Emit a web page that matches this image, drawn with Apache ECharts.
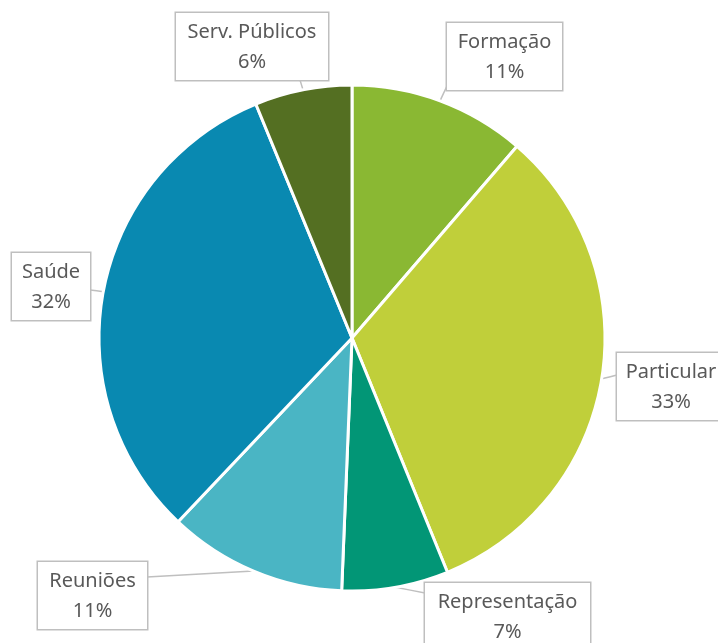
<!DOCTYPE html>
<html>
<head>
<meta charset="utf-8">
<script src="https://cdn.jsdelivr.net/npm/echarts@6/dist/echarts.min.js"></script>
<style>
html,body{margin:0;padding:0;background:#fff;}
#chart{width:718px;height:643px;}
</style>
</head>
<body>
<div id="chart"></div>
<script>
// ---- data ----
const categories = ['Formação', 'Particular', 'Representação', 'Reuniões', 'Saúde', 'Serv. Públicos'];
const values = [11.3, 32.5, 6.8, 11.4, 31.7, 6.2];
const colors = ['#8ab833', '#c0cf3a', '#029676', '#4ab5c4', '#0989b1', '#546f22'];

// ---- callout box layout (left, top, width) and pointer point on box ----
const boxLeft   = [447, 617, 425, 38, 12, 176];
const boxTop    = [23, 353, 583, 562, 253, 13];
const boxWidth  = [115, 108, 165, 109, 78, 152];
const pointerX  = [447, 617, 425, 147, 90, 300];
const pointerY  = [86, 375, 593, 577, 290, 80];

const padX = 4;
const chart = echarts.init(document.getElementById('chart'), null, {renderer: 'canvas'});

const data = categories.map((c, i) => ({
  name: c,
  value: values[i],
  itemStyle: {color: colors[i]},
  label: {width: boxWidth[i] - 2 * padX}
}));

chart.setOption({
  animation: false,
  series: [{
    type: 'pie',
    center: [352, 338],
    radius: 253,
    startAngle: 90,
    clockwise: true,
    data: data,
    itemStyle: {borderColor: '#ffffff', borderWidth: 3},
    label: {
      show: true,
      position: 'outside',
      formatter: p => p.name + '\n' + Math.round(p.percent) + '%',
      fontFamily: 'Noto Sans',
      fontSize: 20,
      lineHeight: 30,
      color: '#595959',
      align: 'center',
      backgroundColor: '#ffffff',
      borderColor: '#bfbfbf',
      borderWidth: 1.5,
      padding: [4, padX, 3, padX]
    },
    labelLine: {
      show: true,
      smooth: false,
      lineStyle: {color: '#bfbfbf', width: 1.5}
    },
    labelLayout: function (params) {
      const i = params.dataIndex;
      const a = params.labelLinePoints ? params.labelLinePoints[0] : [pointerX[i], pointerY[i]];
      const b = [pointerX[i], pointerY[i]];
      return {
        x: boxLeft[i] + boxWidth[i] / 2,
        y: boxTop[i],
        align: 'center',
        verticalAlign: 'top',
        labelLinePoints: [a, [(a[0] + b[0]) / 2, (a[1] + b[1]) / 2], b]
      };
    }
  }]
});
</script>
</body>
</html>
